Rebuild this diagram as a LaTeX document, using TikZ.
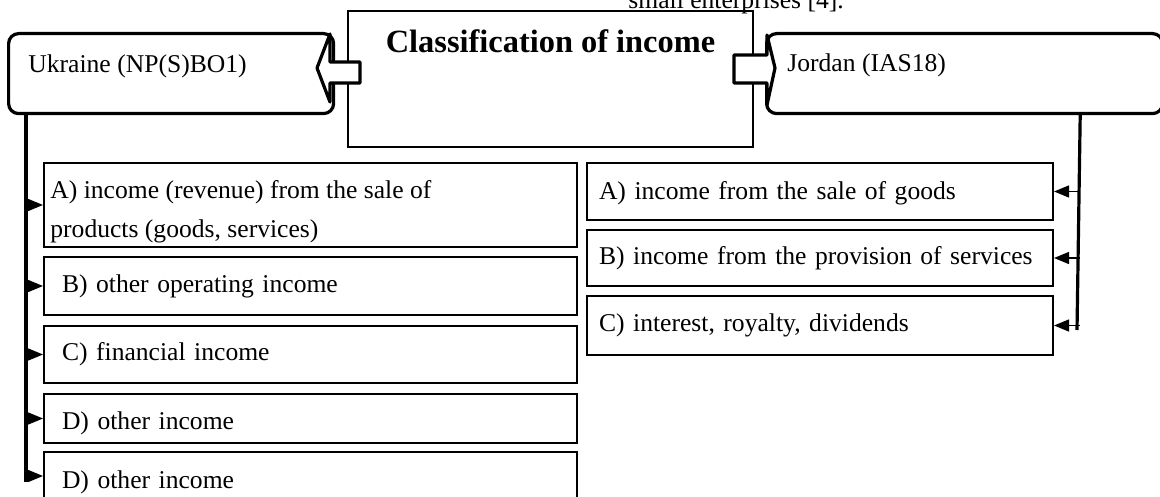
\documentclass[tikz,border=0pt]{standalone}
\usepackage{fontspec}
\setmainfont{Liberation Serif}
\usepackage{tikz}
\usetikzlibrary{arrows.meta}
\tikzstyle{branch} = [line width=0.7pt,-{Triangle[length=7.5pt,width=6pt]}]
\tikzstyle{trunk} = [line width=1.6pt]
\tikzstyle{country} = [draw, line width=1.6pt, rounded corners=5pt, fill=white, anchor=north west, inner sep=0pt]
\tikzstyle{shaft} = [draw, line width=1.6pt, fill=white, line join=round]
\tikzstyle{lbox} = [draw, line width=1pt, text width=248.5pt, inner xsep=9pt]
\tikzstyle{rbox} = [draw, line width=1pt, text width=221pt, inner xsep=6pt]

\begin{document}
\begin{tikzpicture}[x=0.5pt, y=-0.5pt, font=\fontsize{12.8}{17}\selectfont]
    \useasboundingbox (0,0) rectangle (1160,497);
    \clip (0,0) rectangle (1160,497);
    \node (top) [anchor=base west, inner sep=0pt] at (628,8.3) {small enterprises [4].};

    % Title box
    \node (cls) [draw, line width=1pt, minimum width=202.5pt, minimum height=68pt, anchor=north west, inner sep=0pt] at (347,10) {};
    \node (clslbl) [anchor=base, inner sep=0pt, font=\fontsize{16.2}{19}\selectfont\bfseries] at ([yshift=-21.25pt]cls.north) {Classification of income};

    % Countries
    \node (ukr) [country, minimum width=162.5pt, minimum height=40pt] at (7,32) {};
    \node (ukrlbl) [anchor=base west, inner sep=0pt] at (28,72.5) {Ukraine (NP(S)BO1)};
    \node (jor) [country, minimum width=198pt, minimum height=40pt] at (765,32) {};
    \node (jorlbl) [anchor=base west, inner sep=0pt] at (787,72) {Jordan (IAS18)};
    \draw[shaft] (360,62) -- (330,62) -- (330,34) -- (317,68) -- (330,102) -- (330,83) -- (360,83) -- cycle;
    \draw[shaft] (734,55) -- (767,55) -- (767,35) -- (775,68) -- (767,105) -- (767,83) -- (734,83) -- cycle;

    % Ukraine
    \node (uA) [lbox, minimum height=42pt] at (310.5,205) {};
    \node (uAlbl) [anchor=north west, inner sep=0pt, align=left] at (50,180) {A) income (revenue) from the sale of\\[2.5pt]products (goods, services)};
    \node (uB) [lbox, minimum height=29pt] at (310.5,286) {B) other operating income};
    \node (uC) [lbox, minimum height=28.5pt] at (310.5,354.5) {C) financial income};
    \node (uD) [lbox, minimum height=24.5pt, text height=13.5pt] at (310.5,418.5) {D) other income};
    \node (uE) [lbox, minimum height=24pt, text height=15pt, inner ysep=2pt] at (310.5,476) {D) other income};

    % Jordan
    \node (jA) [rbox, minimum height=28.5pt, text height=11pt] at (820,191.5) {A) income from the sale of goods};
    \node (jB) [rbox, minimum height=28pt] at (820,258) {B) income from the provision of services};
    \node (jC) [rbox, minimum height=29.5pt] at (820,325.5) {C) interest, royalty, dividends};

    % Edges
    \coordinate (ltop) at ([xshift=9.5pt]ukr.south west);
    \coordinate (lbot) at (26,482);
    \coordinate (rtop) at ([xshift=-42pt]jor.south east);
    \coordinate (rbot) at (1077,330);
    \draw[trunk] (ltop) -- (lbot);
    \draw[trunk] (rtop) -- (rbot);
    \foreach \b in {uA,uB,uC,uD,uE}
        \draw[branch] (ltop |- \b.west) -- (\b.west);
    \foreach \b in {jA,jB,jC}
        \draw[branch] (rtop |- \b.east) -- (\b.east);
\end{tikzpicture}
\end{document}
